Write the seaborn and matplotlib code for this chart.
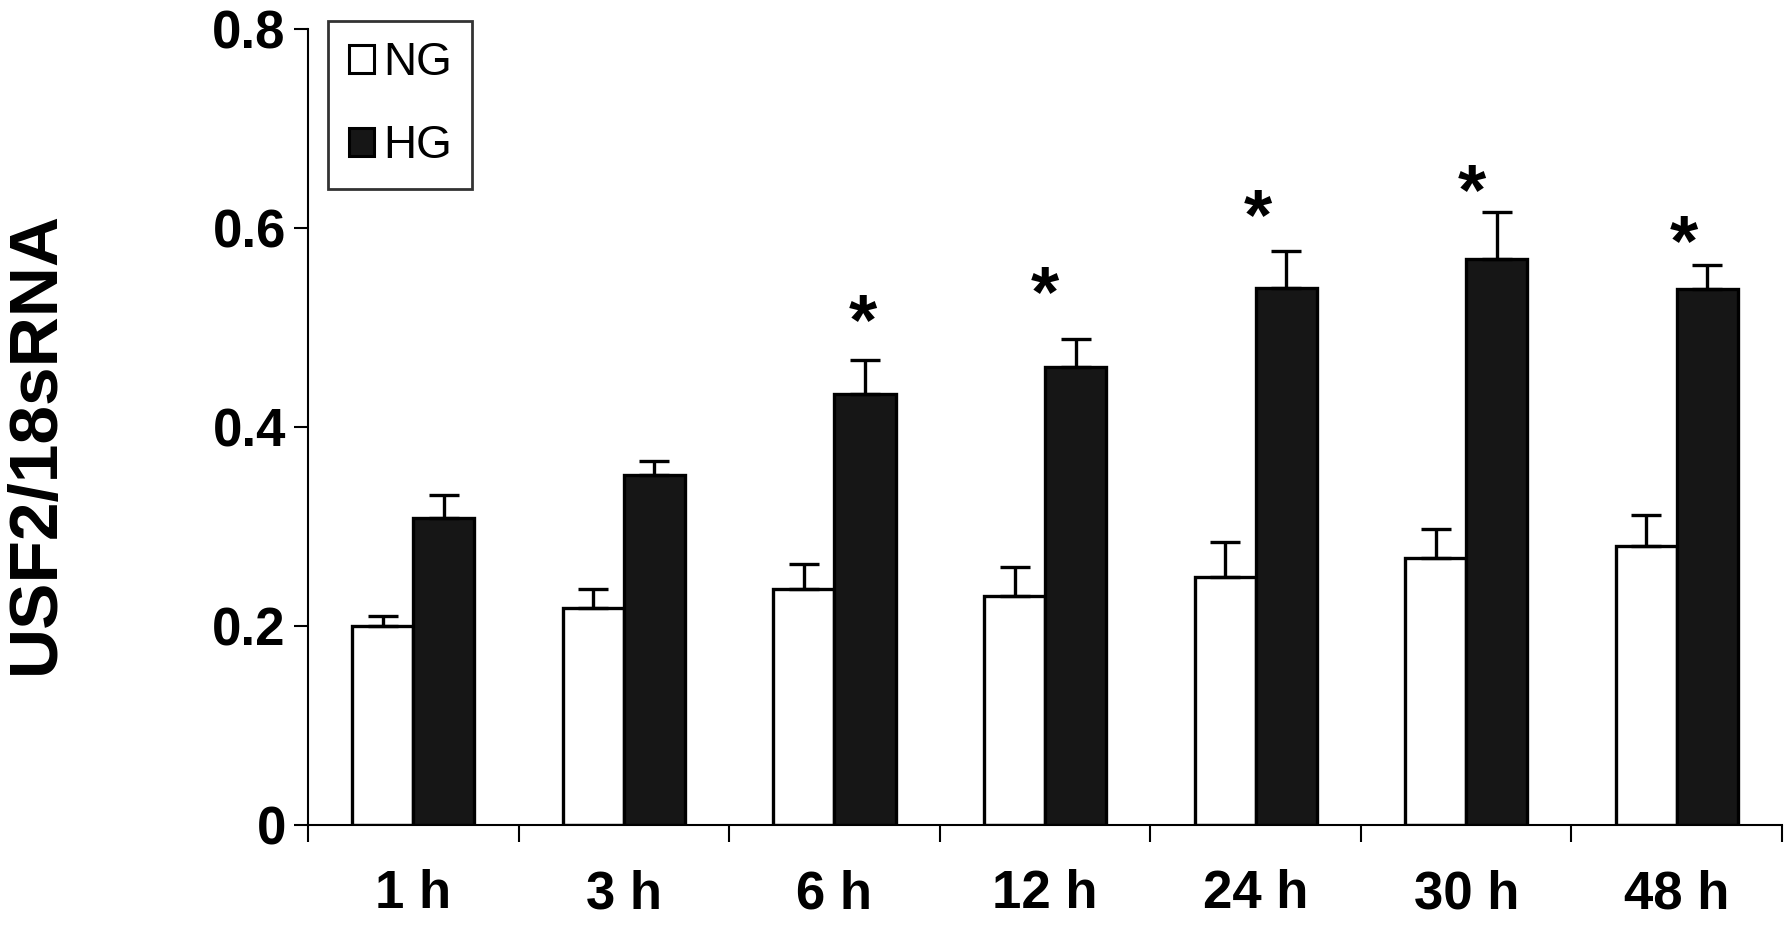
import numpy as np
import pandas as pd
import seaborn as sns
import matplotlib.pyplot as plt
from matplotlib.patches import Patch

# values
times = ['1 h', '3 h', '6 h', '12 h', '24 h', '30 h', '48 h']
ng_mean = [0.20, 0.218, 0.237, 0.230, 0.249, 0.268, 0.280]
ng_err = [0.010, 0.019, 0.025, 0.029, 0.035, 0.029, 0.031]
hg_mean = [0.308, 0.352, 0.433, 0.460, 0.539, 0.569, 0.538]
hg_err = [0.023, 0.014, 0.034, 0.028, 0.038, 0.047, 0.025]
star_y = [None, None, 0.52, 0.548, 0.626, 0.651, 0.60]

df = pd.DataFrame({
    'time': times * 2,
    'group': ['NG'] * len(times) + ['HG'] * len(times),
    'value': ng_mean + hg_mean,
})

sns.set_theme(style='ticks')
plt.rcParams['font.family'] = ['Liberation Sans', 'DejaVu Sans']
plt.rcParams.update({'text.color': 'black', 'axes.labelcolor': 'black',
                     'xtick.color': 'black', 'ytick.color': 'black',
                     'axes.edgecolor': 'black'})

fig = plt.figure(figsize=(17.91, 9.52), dpi=100)
ax = fig.add_axes([0.172, 0.1334, 0.823, 0.8366])

sns.barplot(data=df, x='time', y='value', hue='group', order=times,
            hue_order=['NG', 'HG'], palette={'NG': 'white', 'HG': '#161616'},
            edgecolor='black', linewidth=2.4, width=0.58, errorbar=None,
            legend=False, ax=ax)

# upper error bars only
bar_w = 0.29
x = np.arange(len(times))
for off, m, e in [(-bar_w / 2, ng_mean, ng_err), (bar_w / 2, hg_mean, hg_err)]:
    ax.errorbar(x + off, m, yerr=[np.zeros(len(m)), e], fmt='none',
                ecolor='black', elinewidth=2.4, capsize=11, capthick=2.4)

# significance stars
star_dx = [0, 0, 0.136, 0.0, 0.01, 0.025, 0.035]
for i, sy in enumerate(star_y):
    if sy is None:
        continue
    ax.text(i + star_dx[i], sy - 0.018, '*', ha='center', va='center',
            fontsize=52, fontweight='bold', color='black')
ax.text(3.0, 0.32, "'", ha='center', va='center', fontsize=14, color='black')

ax.set_xlim(-0.5, len(times) - 0.5)
ax.set_ylim(0, 0.8)
ax.set_yticks([0, 0.2, 0.4, 0.6, 0.8])
ax.set_yticklabels(['0', '0.2', '0.4', '0.6', '0.8'])
ax.set_xticks(x)
ax.set_xticklabels(times)
ax.set_xticks(np.arange(-0.5, len(times)), minor=True)
ax.tick_params(axis='x', which='major', length=0, pad=32, labelsize=38)
ax.tick_params(axis='x', which='minor', length=12, width=1.5, direction='out')
ax.tick_params(axis='y', length=10, width=1.5, pad=6, labelsize=38)
for lab in ax.get_xticklabels() + ax.get_yticklabels():
    lab.set_fontweight('bold')

ax.set_xlabel('')
ax.set_ylabel('USF2/18sRNA', fontsize=50, fontweight='bold')
ax.yaxis.set_label_coords(-0.163, 0.48)

sns.despine(ax=ax)
ax.spines['left'].set_linewidth(1.5)
ax.spines['bottom'].set_linewidth(1.5)

handles = [Patch(facecolor='white', edgecolor='black', linewidth=2.2, label='NG'),
           Patch(facecolor='#161616', edgecolor='black', linewidth=2.2, label='HG')]
leg = ax.legend(handles=handles, loc='upper left', bbox_to_anchor=(0.0136, 1.01),
                fontsize=33, frameon=True, fancybox=False, edgecolor='black',
                handlelength=0.55, handleheight=0.55, handletextpad=0.2,
                labelspacing=0.85, borderpad=0.45, borderaxespad=0)
leg.get_frame().set_linewidth(2)

fig.savefig('out.png', dpi=100, facecolor='white')
